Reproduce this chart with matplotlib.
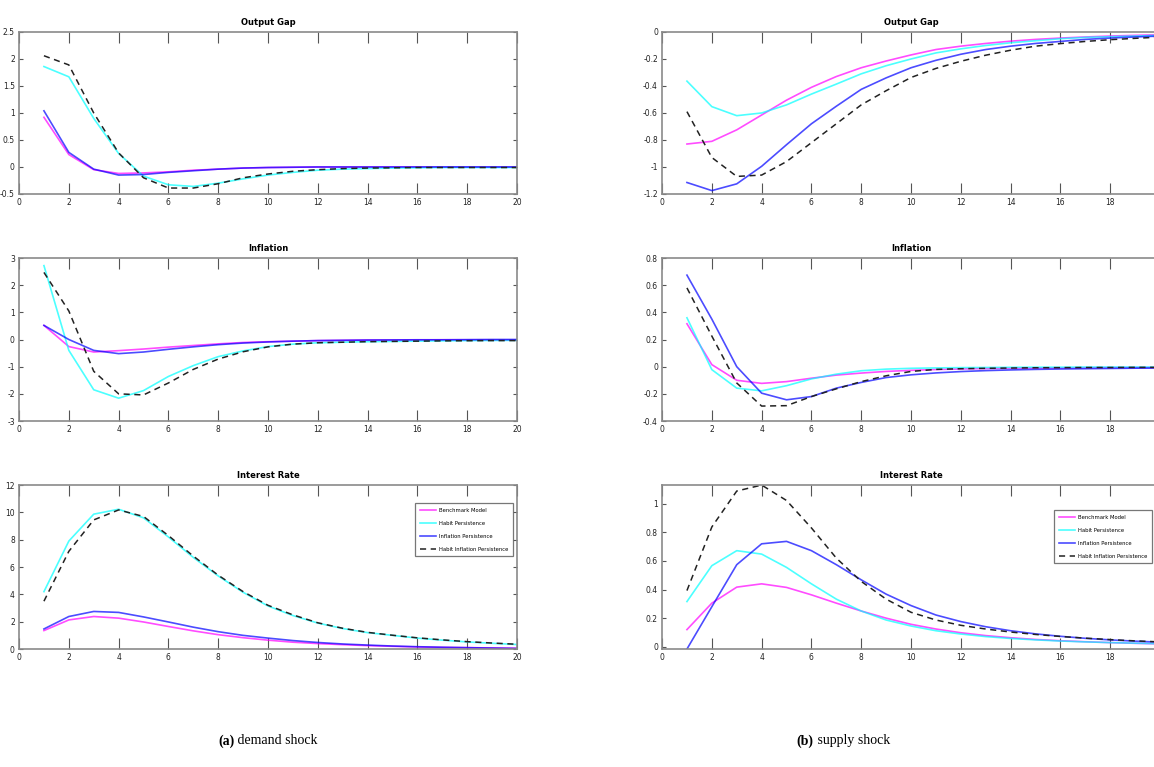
import matplotlib
matplotlib.use("Agg")
import matplotlib.pyplot as plt
from matplotlib.ticker import FuncFormatter, MultipleLocator, FixedLocator
import numpy as np

periods = list(range(1, 21))
labels = ['Benchmark Model', 'Habit Persistence', 'Inflation Persistence',
          'Habit Inflation Persistence']

# demand shock
d_gap_bench = [0.92, 0.23, -0.05, -0.12, -0.11, -0.09, -0.06, -0.04, -0.02, -0.01,
               -0.005, 0, 0, 0, 0, 0, 0, 0, 0, 0]
d_gap_habit = [1.86, 1.67, 0.90, 0.25, -0.17, -0.33, -0.36, -0.30, -0.22, -0.15,
               -0.10, -0.06, -0.04, -0.03, -0.02, -0.015, -0.01, -0.01, -0.01, -0.01]
d_gap_infl = [1.04, 0.27, -0.04, -0.15, -0.14, -0.10, -0.07, -0.04, -0.02, -0.01,
              -0.005, 0, 0, 0, 0, 0, 0, 0, 0, 0]
d_gap_both = [2.06, 1.89, 1.00, 0.26, -0.20, -0.39, -0.39, -0.31, -0.20, -0.13,
              -0.08, -0.05, -0.03, -0.02, -0.015, -0.01, -0.01, -0.01, -0.01, -0.01]

d_inf_bench = [0.52, -0.26, -0.46, -0.41, -0.35, -0.28, -0.22, -0.16, -0.11, -0.08,
               -0.06, -0.04, -0.03, -0.02, -0.02, -0.015, -0.01, -0.01, -0.01, -0.01]
d_inf_habit = [2.72, -0.40, -1.85, -2.16, -1.88, -1.36, -0.96, -0.63, -0.42, -0.26,
               -0.17, -0.12, -0.10, -0.08, -0.07, -0.06, -0.05, -0.04, -0.035, -0.03]
d_inf_infl = [0.52, 0.00, -0.40, -0.52, -0.46, -0.36, -0.27, -0.19, -0.13, -0.09,
              -0.06, -0.04, -0.03, -0.02, -0.015, -0.01, -0.01, -0.005, 0, 0]
d_inf_both = [2.47, 1.05, -1.17, -2.00, -2.04, -1.60, -1.10, -0.72, -0.45, -0.27,
              -0.17, -0.12, -0.10, -0.08, -0.07, -0.06, -0.05, -0.045, -0.04, -0.04]

d_int_bench = [1.35, 2.13, 2.38, 2.26, 1.98, 1.65, 1.33, 1.05, 0.83, 0.65,
               0.50, 0.40, 0.32, 0.25, 0.20, 0.15, 0.12, 0.10, 0.08, 0.06]
d_int_habit = [4.20, 7.90, 9.87, 10.23, 9.60, 8.20, 6.70, 5.35, 4.15, 3.15,
               2.45, 1.90, 1.50, 1.20, 1.00, 0.80, 0.65, 0.52, 0.42, 0.33]
d_int_infl = [1.47, 2.38, 2.75, 2.68, 2.35, 1.98, 1.60, 1.27, 1.00, 0.80,
              0.62, 0.48, 0.37, 0.29, 0.22, 0.17, 0.13, 0.10, 0.07, 0.04]
d_int_both = [3.50, 7.15, 9.45, 10.18, 9.70, 8.30, 6.80, 5.40, 4.20, 3.20,
              2.50, 1.92, 1.52, 1.22, 1.01, 0.82, 0.67, 0.54, 0.44, 0.35]

# supply shock
s_gap_bench = [-0.83, -0.81, -0.725, -0.615, -0.505, -0.41, -0.33, -0.265, -0.215, -0.17,
               -0.13, -0.105, -0.085, -0.068, -0.055, -0.045, -0.037, -0.03, -0.025, -0.02]
s_gap_habit = [-0.364, -0.553, -0.62, -0.60, -0.54, -0.46, -0.386, -0.31, -0.25, -0.20,
               -0.155, -0.125, -0.10, -0.08, -0.065, -0.05, -0.04, -0.035, -0.03, -0.025]
s_gap_infl = [-1.115, -1.175, -1.125, -0.995, -0.835, -0.68, -0.55, -0.425, -0.34, -0.265,
              -0.21, -0.165, -0.13, -0.105, -0.085, -0.07, -0.055, -0.045, -0.037, -0.03]
s_gap_both = [-0.59, -0.93, -1.07, -1.06, -0.96, -0.82, -0.68, -0.54, -0.435, -0.337,
              -0.27, -0.217, -0.172, -0.135, -0.105, -0.086, -0.07, -0.057, -0.047, -0.038]

s_inf_bench = [0.316, 0.015, -0.10, -0.123, -0.11, -0.085, -0.062, -0.047, -0.035, -0.027,
               -0.021, -0.017, -0.014, -0.012, -0.01, -0.009, -0.008, -0.007, -0.0065, -0.006]
s_inf_habit = [0.36, -0.022, -0.158, -0.178, -0.14, -0.09, -0.055, -0.03, -0.018, -0.012,
               -0.009, -0.007, -0.006, -0.005, -0.004, -0.004, -0.003, -0.003, -0.003, -0.003]
s_inf_infl = [0.674, 0.35, 0.0, -0.195, -0.244, -0.22, -0.158, -0.116, -0.08, -0.06,
              -0.046, -0.036, -0.029, -0.024, -0.02, -0.017, -0.015, -0.013, -0.011, -0.01]
s_inf_both = [0.58, 0.225, -0.12, -0.29, -0.287, -0.22, -0.163, -0.11, -0.067, -0.035,
              -0.02, -0.015, -0.012, -0.01, -0.008, -0.007, -0.006, -0.006, -0.005, -0.005]

s_int_bench = [0.12, 0.305, 0.417, 0.44, 0.415, 0.363, 0.305, 0.25, 0.20, 0.157,
               0.124, 0.098, 0.078, 0.063, 0.051, 0.042, 0.035, 0.029, 0.024, 0.02]
s_int_habit = [0.316, 0.567, 0.672, 0.648, 0.555, 0.44, 0.333, 0.25, 0.187, 0.145,
               0.112, 0.089, 0.071, 0.058, 0.048, 0.04, 0.034, 0.029, 0.025, 0.021]
s_int_infl = [-0.016, 0.28, 0.574, 0.72, 0.737, 0.672, 0.574, 0.468, 0.368, 0.288,
              0.222, 0.176, 0.14, 0.112, 0.09, 0.073, 0.059, 0.048, 0.039, 0.032]
s_int_both = [0.393, 0.838, 1.089, 1.131, 1.023, 0.831, 0.62, 0.457, 0.333, 0.241,
              0.187, 0.15, 0.124, 0.103, 0.086, 0.072, 0.06, 0.05, 0.041, 0.034]

titles = ['Output Gap', 'Inflation', 'Interest Rate']

narrow = ['Liberation Sans Narrow', 'DejaVu Sans']
plt.rcParams['font.family'] = narrow

fig = plt.figure(figsize=(11.54, 7.67), dpi=100)

# axes frames in figure fractions (left, right columns; three rows)
col_x = [0.0165, 0.5737]
row_y = [(0.7471, 0.2112), (0.4511, 0.2125), (0.1538, 0.2138)]

panels = [
    [(d_gap_bench, d_gap_habit, d_gap_infl, d_gap_both), (-0.5, 2.5), 0.5],
    [(d_inf_bench, d_inf_habit, d_inf_infl, d_inf_both), (-3, 3), 1],
    [(d_int_bench, d_int_habit, d_int_infl, d_int_both), (0, 12), 2],
], [
    [(s_gap_bench, s_gap_habit, s_gap_infl, s_gap_both), (-1.2, 0), 0.2],
    [(s_inf_bench, s_inf_habit, s_inf_infl, s_inf_both), (-0.4, 0.8), 0.2],
    [(s_int_bench, s_int_habit, s_int_infl, s_int_both), (-0.016, 1.131), 0.2],
]

colors = ['#ff00ff', '#00ffff', '#0000ff', '#222222']
fmt = FuncFormatter(lambda v, p: '%g' % round(v, 6))

for c, column in enumerate(panels):
    for r, (series, ylim, ystep) in enumerate(column):
        b, h = row_y[r]
        ax = fig.add_axes([col_x[c], b, 0.4315, h])
        for k, ys in enumerate(series):
            if k == 3:
                ax.plot(periods, ys, color=colors[k], lw=1.1, ls=(0, (4, 3)),
                        label=labels[k])
            else:
                ax.plot(periods, ys, color=colors[k], lw=1.2, alpha=0.7,
                        label=labels[k])
        ax.set_xlim(0, 20)
        ax.set_ylim(*ylim)
        # the right-hand figure is cut at the image edge, so its last label is not shown
        xt = list(range(0, 21, 2)) if c == 0 else list(range(0, 19, 2))
        ax.xaxis.set_major_locator(FixedLocator(xt))
        ax.yaxis.set_major_locator(MultipleLocator(ystep))
        ax.xaxis.set_major_formatter(fmt)
        ax.yaxis.set_major_formatter(fmt)
        ax.tick_params(axis='both', direction='in', top=True, right=True,
                       labelsize=5.5, colors='#555555', labelcolor='#222222',
                       width=0.8, pad=3)
        ax.tick_params(axis='x', length=8)
        ax.tick_params(axis='y', length=3)
        for sp in ax.spines.values():
            sp.set_color('#8a8a8a')
            sp.set_linewidth(1.2)
        ax.set_title(titles[r], fontsize=6, fontweight='bold', pad=5)
        if r == 2:
            anchor = (0.992, 0.89) if c == 0 else (0.984, 0.847)
            leg = ax.legend(loc='upper right', bbox_to_anchor=anchor,
                            fontsize=3.8, frameon=True, fancybox=False,
                            handlelength=3.0, borderpad=0.9, labelspacing=1.5,
                            handletextpad=0.6, borderaxespad=0)
            leg.get_frame().set_edgecolor('#555555')
            leg.get_frame().set_linewidth(0.9)

cap_y = 0.034
fig.text(0.203, cap_y, '(a)', fontsize=10, ha='right', va='center',
         family='Liberation Serif', fontweight='bold')
fig.text(0.203, cap_y, ' demand shock', fontsize=10, ha='left', va='center',
         family='Liberation Serif')
fig.text(0.705, cap_y, '(b)', fontsize=10, ha='right', va='center',
         family='Liberation Serif', fontweight='bold')
fig.text(0.705, cap_y, ' supply shock', fontsize=10, ha='left', va='center',
         family='Liberation Serif')

fig.savefig('out.png', dpi=100)
